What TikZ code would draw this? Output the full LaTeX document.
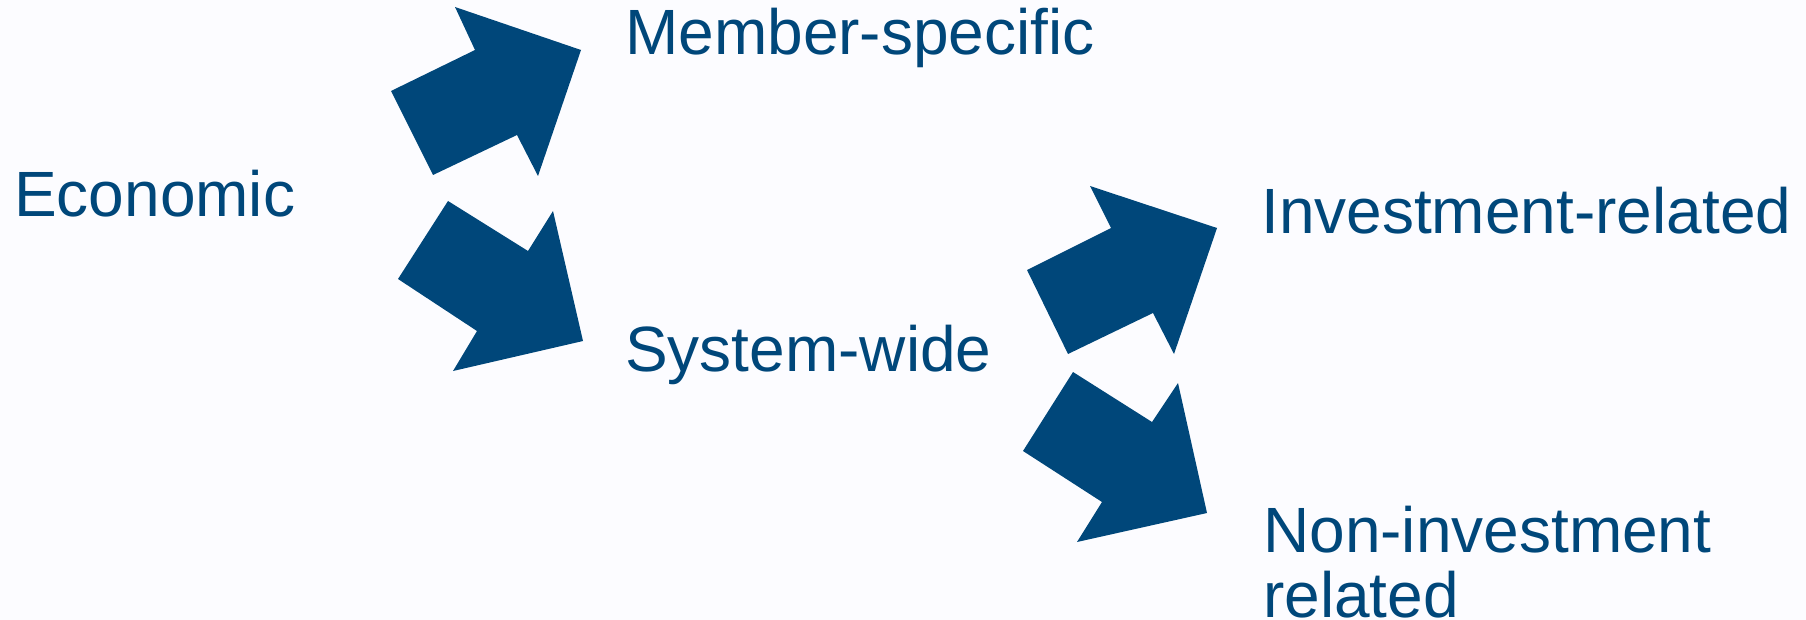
\documentclass[tikz,border=0pt]{standalone}
\usepackage{fontspec}
\setmainfont{Liberation Sans}
\definecolor{navy}{RGB}{0,71,122}
\definecolor{paper}{RGB}{252,252,255}
\begin{document}
\begin{tikzpicture}[x=1pt,y=-1pt,
  label/.style={inner sep=0pt,anchor=base west,text=navy,font=\fontsize{64}{65}\selectfont,align=left},
  blockarrow/.style={fill=navy,draw=none}]
\fill[paper] (0,0) rectangle (1806,620);
\useasboundingbox (0,0) rectangle (1806,620);

% labels (multi-line label is anchored on its last baseline)
\node[label] (econ)   at (14,217)   {Economic};
\node[label] (member) at (625,55)   {Member-specific};
\node[label] (system) at (625,371)  {System-wide};
\node[label] (invest) at (1261,234) {Investment-related};
\node[label] (noninv) at (1263,617) {Non-investment\\related};

% block arrows
\fill[blockarrow] (455,7) -- (581,50) -- (538,176) -- (517,135) -- (433,175) -- (391,91) -- (475,50) -- cycle;
\fill[blockarrow] (448,201) -- (528,251) -- (553,211) -- (583,341) -- (453,371) -- (477,331) -- (398,279) -- cycle;
\fill[blockarrow] (1090,186) -- (1217,228) -- (1174,354) -- (1153,313) -- (1068,354) -- (1027,270) -- (1111,228) -- cycle;
\fill[blockarrow] (1073,372) -- (1152,422) -- (1178,383) -- (1207,513) -- (1077,542) -- (1102,502) -- (1023,451) -- cycle;
\end{tikzpicture}
\end{document}
